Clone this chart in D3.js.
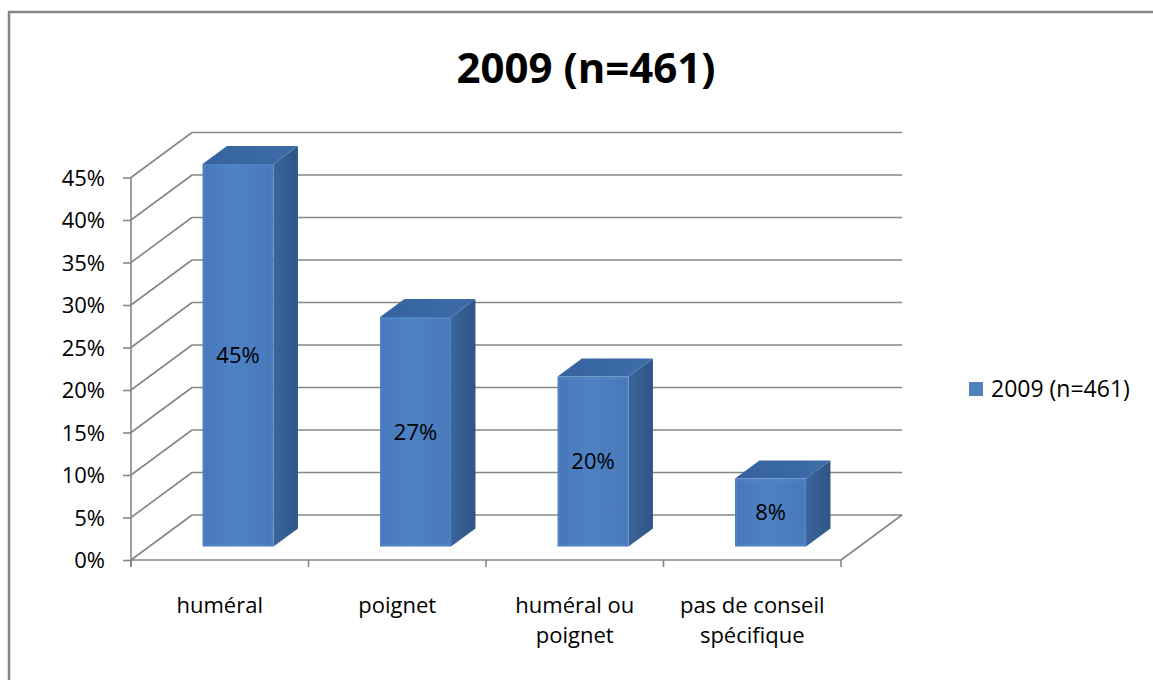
<!DOCTYPE html>
<html>
<head>
<meta charset="utf-8">
<script src="https://cdn.jsdelivr.net/npm/d3@7"></script>
<style>
  body { margin: 0; background: #fff; }
  svg text { font-family: "Open Sans", "Noto Sans", sans-serif; fill: #000; }
</style>
</head>
<body>
<div class="chart"></div>
<script>
var categories = ["huméral", "poignet", "huméral ou\npoignet", "pas de conseil\nspécifique"];
var values = [45, 27, 20, 8];
var valueLabels = ["45%", "27%", "20%", "8%"];
var yTicks = [0, 5, 10, 15, 20, 25, 30, 35, 40, 45];
var seriesName = "2009 (n=461)";
var title = "2009 (n=461)";

var W = 1153, H = 680;
var depth = { dx: 61, dy: -45 };   // floor depth offset
var barDepth = [0.3, 0.7];          // bar sits in the middle of the depth

var svg = d3.select(".chart").append("svg")
  .attr("width", W).attr("height", H);

// gradients for the bar faces
var defs = svg.append("defs");
var gf = defs.append("linearGradient").attr("id", "front").attr("x1", 0).attr("x2", 1);
gf.append("stop").attr("offset", "0%").attr("stop-color", "#4777b9");
gf.append("stop").attr("offset", "45%").attr("stop-color", "#4e82c4");
gf.append("stop").attr("offset", "100%").attr("stop-color", "#4778ba");
var gs = defs.append("linearGradient").attr("id", "side").attr("x1", 0).attr("x2", 1);
gs.append("stop").attr("offset", "0%").attr("stop-color", "#3a659c");
gs.append("stop").attr("offset", "100%").attr("stop-color", "#2f5586");
var gt = defs.append("linearGradient").attr("id", "top").attr("x1", 0).attr("x2", 1);
gt.append("stop").attr("offset", "0%").attr("stop-color", "#3663a0");
gt.append("stop").attr("offset", "100%").attr("stop-color", "#3d6ca9");

// outer chart border (only left and top visible)
svg.append("rect")
  .attr("x", 9).attr("y", 12).attr("width", W + 20).attr("height", H + 20)
  .attr("fill", "none").attr("stroke", "#868686").attr("stroke-width", 2.5);

// title
svg.append("text")
  .attr("x", 586).attr("y", 83)
  .attr("text-anchor", "middle")
  .style("font-size", "42px").style("font-weight", "bold")
  .text(title);

var x = d3.scaleBand().domain(categories).range([131, 841]);
var y = d3.scaleLinear().domain([0, 45]).range([560, 177.5]);

var grid = svg.append("g").attr("stroke", "#868686").attr("stroke-width", 1.6).attr("fill", "none");

// back wall and side wall gridlines
yTicks.forEach(function (v) {
  grid.append("line")
    .attr("x1", 131 + depth.dx).attr("y1", y(v) + depth.dy)
    .attr("x2", 841 + depth.dx).attr("y2", y(v) + depth.dy);
  grid.append("line")
    .attr("x1", 131).attr("y1", y(v))
    .attr("x2", 131 + depth.dx).attr("y2", y(v) + depth.dy);
});
// floor front and right edge
grid.append("line").attr("x1", 131).attr("y1", y(0)).attr("x2", 841).attr("y2", y(0));
grid.append("line").attr("x1", 841).attr("y1", y(0))
  .attr("x2", 841 + depth.dx).attr("y2", y(0) + depth.dy);

// y axis
var yAxis = d3.axisLeft(y).tickValues(yTicks).tickSize(8).tickPadding(18)
  .tickFormat(function (d) { return d + "%"; });
var gy = svg.append("g").attr("transform", "translate(131,0)").call(yAxis);
gy.select(".domain").attr("stroke", "#868686").attr("stroke-width", 1.6)
  .attr("d", "M0," + y(45) + "V" + (y(0) + 7));
gy.selectAll(".tick line").attr("stroke", "#868686").attr("stroke-width", 1.6);
gy.selectAll(".tick text").style("font-size", "22px").attr("dy", "0.36em");

// category ticks
var catEdges = categories.map(function (c) { return x(c); }).concat([841]);
grid.selectAll(".cattick").data(catEdges).enter().append("line")
  .attr("x1", function (d) { return d; }).attr("x2", function (d) { return d; })
  .attr("y1", y(0)).attr("y2", y(0) + 7);

// category labels
var labels = svg.append("g");
categories.forEach(function (c) {
  var lines = c.split("\n");
  var t = labels.append("text")
    .attr("x", x(c) + x.bandwidth() / 2).attr("y", 613)
    .attr("text-anchor", "middle").style("font-size", "22px");
  lines.forEach(function (l, i) {
    t.append("tspan").attr("x", x(c) + x.bandwidth() / 2).attr("dy", i === 0 ? 0 : 30).text(l);
  });
});

// 3D bars
var barW = 71;
var f0 = { dx: depth.dx * barDepth[0], dy: depth.dy * barDepth[0] };
var bd = { dx: depth.dx * (barDepth[1] - barDepth[0]), dy: depth.dy * (barDepth[1] - barDepth[0]) };
var bars = svg.append("g");
categories.forEach(function (c, i) {
  var cx = x(c) + x.bandwidth() / 2 + f0.dx;
  var x0 = cx - barW / 2, x1 = cx + barW / 2;
  var yb = y(0) + f0.dy, yt = y(values[i]) + f0.dy;
  var g = bars.append("g");
  // side face
  g.append("path")
    .attr("d", "M" + x1 + "," + yb + "L" + x1 + "," + yt + "L" + (x1 + bd.dx) + "," + (yt + bd.dy) +
      "L" + (x1 + bd.dx) + "," + (yb + bd.dy) + "Z")
    .attr("fill", "url(#side)");
  // top face
  g.append("path")
    .attr("d", "M" + x0 + "," + yt + "L" + (x0 + bd.dx) + "," + (yt + bd.dy) + "L" + (x1 + bd.dx) + "," + (yt + bd.dy) +
      "L" + x1 + "," + yt + "Z")
    .attr("fill", "url(#top)");
  // front face
  g.append("rect")
    .attr("x", x0).attr("y", yt).attr("width", barW).attr("height", yb - yt)
    .attr("fill", "url(#front)");
  g.append("rect")
    .attr("x", x0 + 1.5).attr("y", yt + 1.5).attr("width", barW - 3).attr("height", yb - yt - 3)
    .attr("fill", "none").attr("stroke", "#5a8fd0").attr("stroke-opacity", 0.5).attr("stroke-width", 1.5);
  g.append("text")
    .attr("x", cx).attr("y", (yb + yt) / 2).attr("dy", "0.36em")
    .attr("text-anchor", "middle").style("font-size", "22px")
    .text(valueLabels[i]);
});

// legend
var lg = svg.append("g").attr("transform", "translate(969,382)");
lg.append("rect").attr("width", 14).attr("height", 14).attr("fill", "#4f81bd");
lg.append("text").attr("x", 22).attr("y", 7).attr("dy", "0.36em").style("font-size", "23px").text(seriesName);
</script>
</body>
</html>
